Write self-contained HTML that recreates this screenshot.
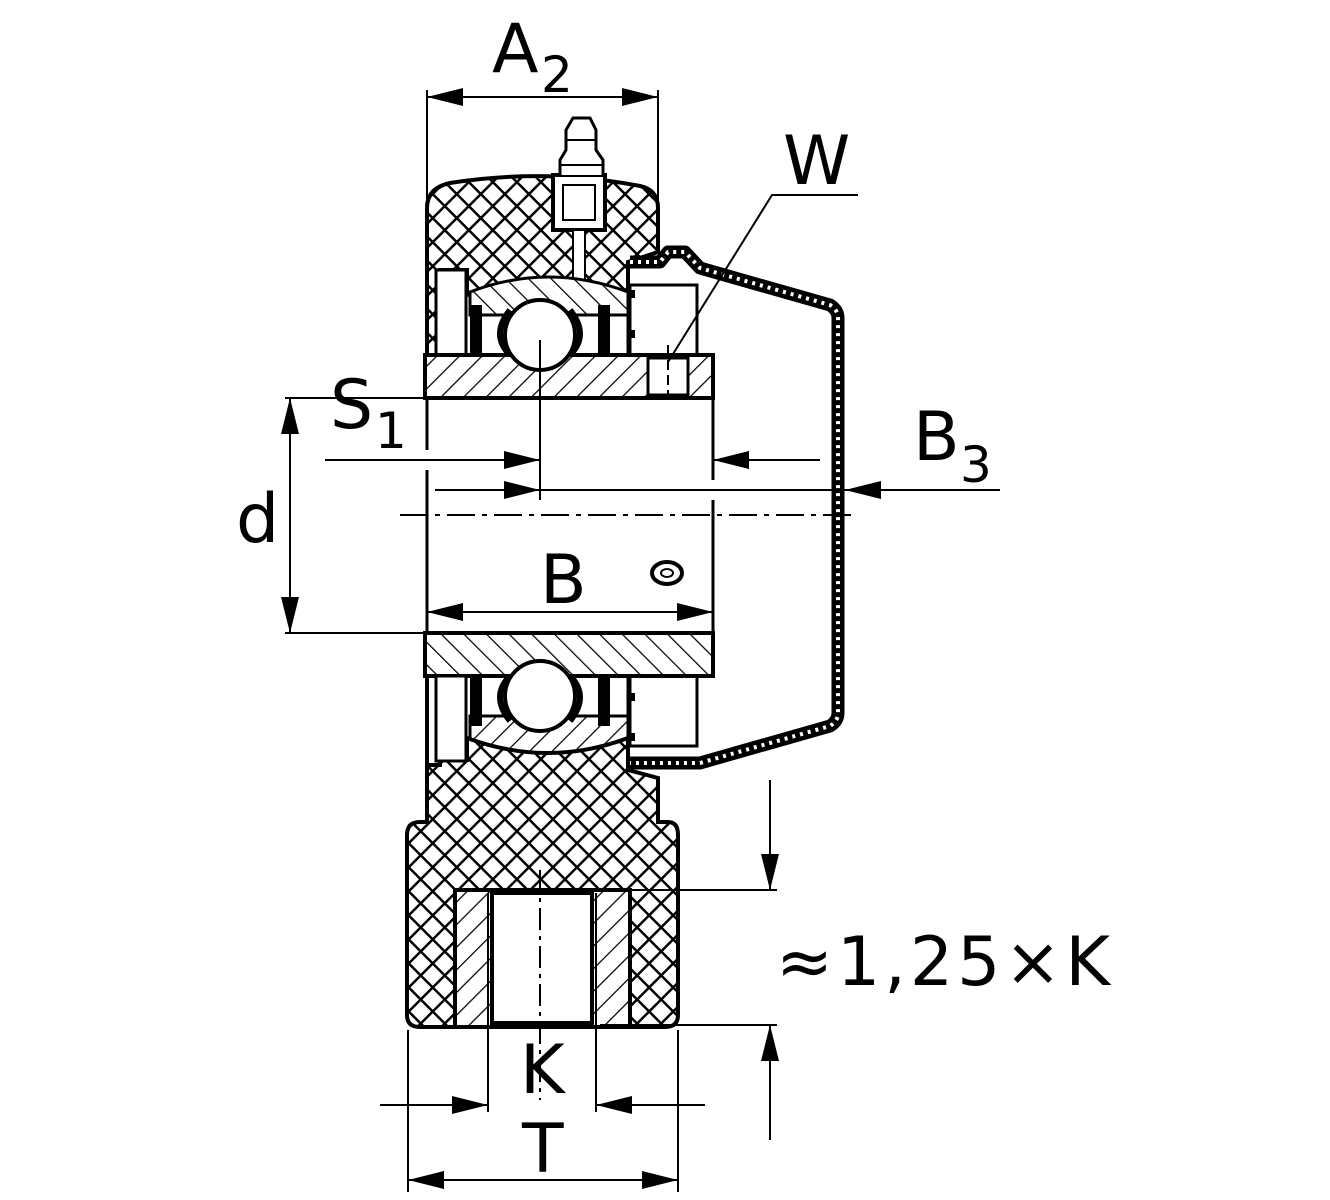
<!DOCTYPE html>
<html><head><meta charset="utf-8"><style>
html,body{margin:0;padding:0;background:#fff;}
svg{display:block;}
text{font-family:"DejaVu Sans","Liberation Sans",sans-serif;fill:#000;}
</style></head><body>
<svg width="1330" height="1200" viewBox="0 0 1330 1200" xmlns="http://www.w3.org/2000/svg">
<defs>
<pattern id="x" width="17" height="17" patternUnits="userSpaceOnUse" patternTransform="rotate(45)">
<rect width="17" height="17" fill="#fff"/>
<line x1="0" y1="0" x2="17" y2="0" stroke="#000" stroke-width="5"/>
<line x1="0" y1="0" x2="0" y2="17" stroke="#000" stroke-width="5"/>
</pattern>
<pattern id="h" width="16" height="16" patternUnits="userSpaceOnUse" patternTransform="rotate(45)">
<rect width="16" height="16" fill="#fff"/>
<line x1="0" y1="0" x2="0" y2="16" stroke="#000" stroke-width="2.5"/>
</pattern>
<pattern id="h2" width="16" height="16" patternUnits="userSpaceOnUse" patternTransform="rotate(-45)">
<rect width="16" height="16" fill="#fff"/>
<line x1="0" y1="0" x2="0" y2="16" stroke="#000" stroke-width="2.5"/>
</pattern>
<marker id="a" viewBox="0 0 20 10" refX="20" refY="5" markerWidth="70" markerHeight="18" markerUnits="userSpaceOnUse" orient="auto-start-reverse"><path d="M0,0 L20,5 L0,10 Z" fill="#000"/></marker>
</defs>
<g stroke="#000" fill="none">
<!-- A2 -->
<line x1="427" y1="90" x2="427" y2="205" stroke-width="2"/>
<line x1="658" y1="90" x2="658" y2="200" stroke-width="2"/>
<line x1="427" y1="97" x2="658" y2="97" stroke-width="2" marker-start="url(#a)" marker-end="url(#a)"/>

<!-- upper housing -->
<path d="M427,355 L427,208 Q427,188 450,183 Q545,168 640,186 Q658,190 658,208 L658,252 L628,262 L628,295 Q548,262 467,295 L467,270 L440,270 L440,355 Z" fill="url(#x)" stroke-width="4"/>
<rect x="436" y="270" width="30" height="85" fill="#fff" stroke-width="3"/>
<!-- grease nipple -->
<rect x="553" y="175" width="52" height="55" fill="#fff" stroke-width="4"/>
<rect x="563" y="185" width="32" height="35" fill="#fff" stroke-width="2"/>
<path d="M560,175 L560,160 L566,150 L566,130 L573,118 L590,118 L596,130 L596,150 L603,160 L603,175" fill="#fff" stroke-width="3"/>
<line x1="566" y1="140" x2="596" y2="140" stroke-width="2"/>
<line x1="560" y1="165" x2="603" y2="165" stroke-width="2"/>
<rect x="573" y="230" width="12" height="75" fill="#fff" stroke-width="2"/>

<!-- bearing upper and lower (mirror) -->
<g id="brg">
<path d="M470,315 L470,292 Q548,262 628,292 L628,315 Z" fill="url(#h2)" stroke-width="3"/>
<rect x="470" y="305" width="12" height="50" fill="#000" stroke="none"/>
<rect x="598" y="305" width="12" height="50" fill="#000" stroke="none"/>
<line x1="466" y1="355" x2="466" y2="300" stroke-width="3"/>
<line x1="628" y1="295" x2="628" y2="355" stroke-width="3"/>
<path d="M510,310 Q490,335 510,355" stroke-width="6"/>
<path d="M570,310 Q590,335 570,355" stroke-width="6"/>
<rect x="630" y="285" width="67" height="70" fill="#fff" stroke-width="3"/>
<rect x="630" y="290" width="5" height="8" fill="#000" stroke="none"/>
<rect x="630" y="330" width="5" height="8" fill="#000" stroke="none"/>
<rect x="425" y="355" width="288" height="43" fill="url(#h)" stroke-width="4"/>
<circle cx="540" cy="335" r="35" fill="#fff" stroke-width="4"/>
</g>
<use href="#brg" transform="translate(0,1031) scale(1,-1)"/>
<rect x="648" y="358" width="40" height="37" fill="#fff" stroke-width="3"/>

<!-- cover -->
<path d="M630,262 L660,262 L668,252 L685,252 L700,268 L735,278 L830,305 Q838,310 838,318 L838,713 Q838,721 830,726 L735,753 L700,763 L630,763" stroke="#000" stroke-width="13" stroke-linejoin="round"/>
<path d="M630,262 L660,262 L668,252 L685,252 L700,268 L735,278 L830,305 Q838,310 838,318 L838,713 Q838,721 830,726 L735,753 L700,763 L630,763" stroke="#fff" stroke-width="4" stroke-dasharray="3 5"/>

<!-- lower housing -->
<path d="M427,676 L427,765 L440,765 L440,760 L467,760 L467,738 Q548,768 628,738 L628,770 L658,778 L658,822 L668,822 Q678,822 678,835 L678,1015 Q678,1027 665,1027 L420,1027 Q407,1027 407,1015 L407,835 Q407,822 420,822 L427,822 Z" fill="url(#x)" stroke-width="4"/>
<rect x="436" y="676" width="30" height="85" fill="#fff" stroke-width="3"/>
<rect x="455" y="890" width="175" height="137" fill="url(#h)" stroke-width="4"/>
<rect x="492" y="893" width="100" height="130" fill="#fff" stroke-width="4"/>
<line x1="488" y1="893" x2="488" y2="1027" stroke-width="2"/>
<line x1="596" y1="893" x2="596" y2="1027" stroke-width="2"/>
<line x1="540" y1="870" x2="540" y2="1100" stroke-width="2" stroke-dasharray="22 6 4 6"/>

<!-- bore lines -->
<line x1="427" y1="398" x2="427" y2="450" stroke-width="3"/>
<line x1="427" y1="470" x2="427" y2="633" stroke-width="3"/>
<line x1="713" y1="398" x2="713" y2="480" stroke-width="3"/>
<line x1="713" y1="500" x2="713" y2="633" stroke-width="3"/>
<line x1="540" y1="340" x2="540" y2="500" stroke-width="2"/>
<line x1="668" y1="345" x2="668" y2="400" stroke-width="2" stroke-dasharray="10 5"/>
<ellipse cx="667" cy="573" rx="15" ry="11" stroke-width="4"/>
<ellipse cx="667" cy="573" rx="6" ry="4" stroke-width="2"/>
<line x1="400" y1="515" x2="855" y2="515" stroke-width="2" stroke-dasharray="28 7 5 7"/>

<!-- d -->
<line x1="285" y1="398" x2="425" y2="398" stroke-width="2"/>
<line x1="285" y1="633" x2="425" y2="633" stroke-width="2"/>
<line x1="290" y1="398" x2="290" y2="633" stroke-width="2" marker-start="url(#a)" marker-end="url(#a)"/>
<!-- S1 -->
<line x1="325" y1="460" x2="540" y2="460" stroke-width="2" marker-end="url(#a)"/>
<line x1="713" y1="460" x2="820" y2="460" stroke-width="2" marker-start="url(#a)"/>
<!-- B3 -->
<line x1="435" y1="490" x2="540" y2="490" stroke-width="2" marker-end="url(#a)"/>
<line x1="540" y1="490" x2="845" y2="490" stroke-width="2"/>
<line x1="845" y1="490" x2="1000" y2="490" stroke-width="2" marker-start="url(#a)"/>
<!-- B -->
<line x1="427" y1="612" x2="713" y2="612" stroke-width="2" marker-start="url(#a)" marker-end="url(#a)"/>
<!-- W -->
<path d="M858,195 L772,195 L668,362" stroke-width="2"/>
<!-- 1.25K -->
<line x1="630" y1="890" x2="777" y2="890" stroke-width="2"/>
<line x1="600" y1="1025" x2="777" y2="1025" stroke-width="2"/>
<line x1="770" y1="780" x2="770" y2="890" stroke-width="2" marker-end="url(#a)"/>
<line x1="770" y1="1140" x2="770" y2="1025" stroke-width="2" marker-end="url(#a)"/>
<!-- K -->
<line x1="488" y1="1027" x2="488" y2="1112" stroke-width="2"/>
<line x1="596" y1="1027" x2="596" y2="1112" stroke-width="2"/>
<line x1="380" y1="1105" x2="488" y2="1105" stroke-width="2" marker-end="url(#a)"/>
<line x1="705" y1="1105" x2="596" y2="1105" stroke-width="2" marker-end="url(#a)"/>
<!-- T -->
<line x1="408" y1="1030" x2="408" y2="1192" stroke-width="2"/>
<line x1="678" y1="1030" x2="678" y2="1192" stroke-width="2"/>
<line x1="408" y1="1180" x2="678" y2="1180" stroke-width="2" marker-start="url(#a)" marker-end="url(#a)"/>
</g>
<g font-size="68">
<text x="492" y="72">A</text><text x="541" y="92" font-size="50">2</text>
<text x="783" y="184">W</text>
<text x="330" y="428">S</text><text x="375" y="448" font-size="50">1</text>
<text x="913" y="460">B</text><text x="960" y="482" font-size="50">3</text>
<text x="236" y="542">d</text>
<text x="540" y="603">B</text>
<text x="776" y="985" letter-spacing="4">≈1,25×K</text>
<text x="520" y="1093">K</text>
<text x="522" y="1172">T</text>
</g>
</svg>
</body></html>
